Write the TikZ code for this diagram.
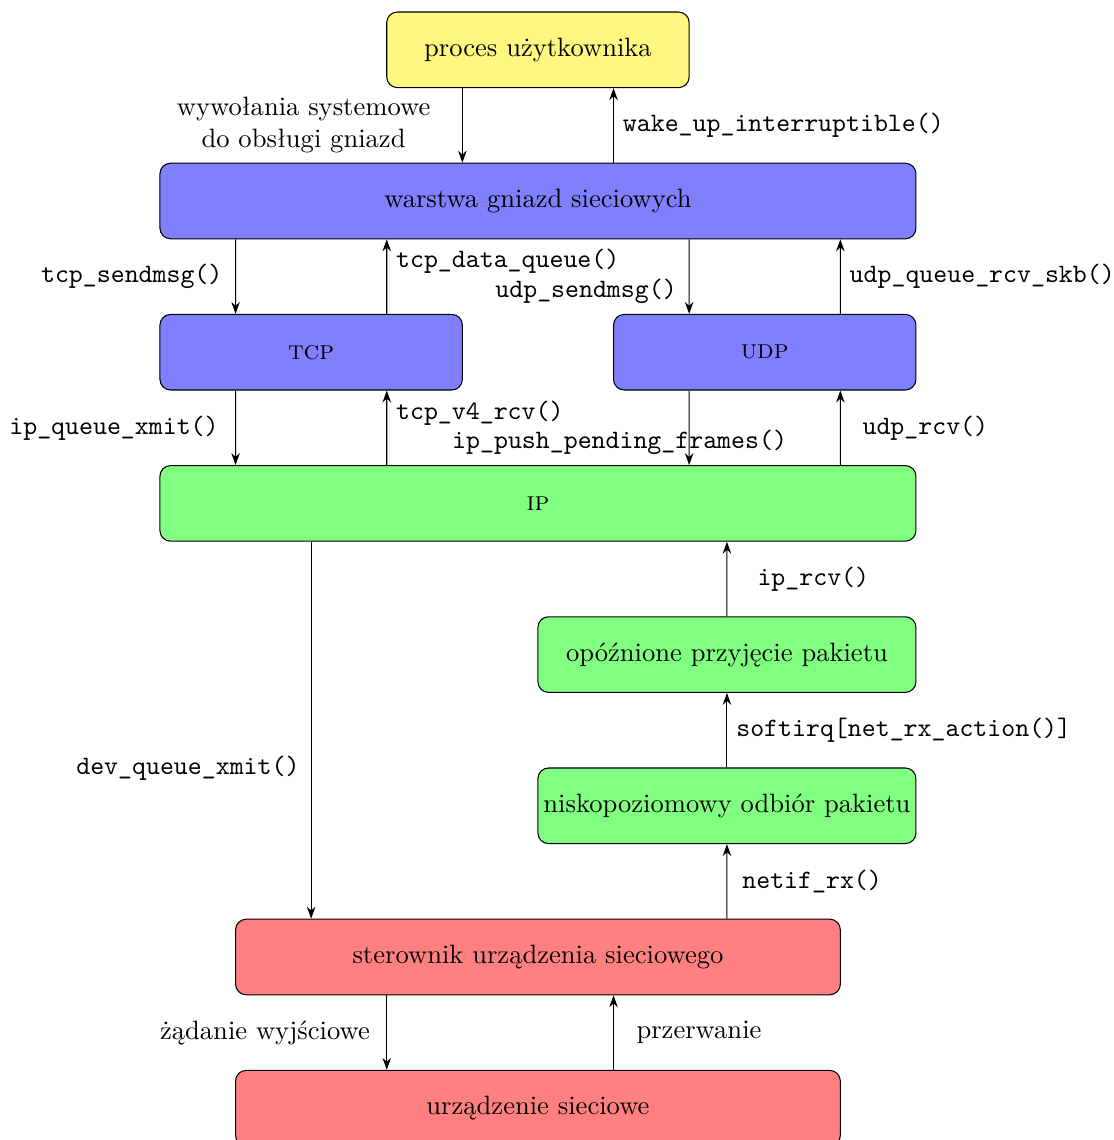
\documentclass[tikz,border=0pt]{standalone}
\usetikzlibrary{arrows.meta}

\tikzset{
  layer/.style={draw, rounded corners=4pt, minimum height=1cm, inner sep=0pt, align=center},
  arr/.style={-{Stealth[length=4.5pt,width=3.2pt]}},
  fn/.style={font=\ttfamily},
}

\begin{document}
\begin{tikzpicture}
  \useasboundingbox (-2.116,0.159) rectangle (12.619,-14.921);

  % layers of the network stack
  \node[layer, fill=yellow!50, minimum width=4cm]  (proc) at (5,-0.5)   {proces użytkownika};
  \node[layer, fill=blue!50,   minimum width=10cm] (sock) at (5,-2.5)   {warstwa gniazd sieciowych};
  \node[layer, fill=blue!50,   minimum width=4cm]  (tcp)  at (2,-4.5)   {\textsc{tcp}};
  \node[layer, fill=blue!50,   minimum width=4cm]  (udp)  at (8,-4.5)   {\textsc{udp}};
  \node[layer, fill=green!50,  minimum width=10cm] (ip)   at (5,-6.5)   {\textsc{ip}};
  \node[layer, fill=green!50,  minimum width=5cm]  (defr) at (7.5,-8.5) {opóźnione przyjęcie pakietu};
  \node[layer, fill=green!50,  minimum width=5cm]  (lowr) at (7.5,-10.5){niskopoziomowy odbiór pakietu};
  \node[layer, fill=red!50,    minimum width=8cm]  (drv)  at (5,-12.5)  {sterownik urządzenia sieciowego};
  \node[layer, fill=red!50,    minimum width=8cm]  (dev)  at (5,-14.5)  {urządzenie sieciowe};

  % user process <-> socket layer
  \draw[arr] ([xshift=-1cm]proc.south) -- node[midway, left, align=center, xshift=-0.3cm]
    {wywołania systemowe\\do obsługi gniazd} ([xshift=-1cm]sock.north);
  \draw[arr] ([xshift=1cm]sock.north) -- node[midway, right, fn] {wake\_up\_interruptible()} ([xshift=1cm]proc.south);

  % socket layer <-> TCP / UDP
  \draw[arr] ([xshift=-4cm]sock.south) -- node[midway, left, xshift=-0.05cm, fn] {tcp\_sendmsg()} ([xshift=-1cm]tcp.north);
  \draw[arr] ([xshift=1cm]tcp.north) -- node[pos=0.7, right, fn] {tcp\_data\_queue()} ([xshift=-2cm]sock.south);
  \draw[arr] ([xshift=2cm]sock.south) -- node[pos=0.7, left, xshift=-0.04cm, fn] {udp\_sendmsg()} ([xshift=-1cm]udp.north);
  \draw[arr] ([xshift=1cm]udp.north) -- node[midway, right, fn] {udp\_queue\_rcv\_skb()} ([xshift=4cm]sock.south);

  % TCP / UDP <-> IP
  \draw[arr] ([xshift=-1cm]tcp.south) -- node[midway, left, xshift=-0.1cm, fn] {ip\_queue\_xmit()} ([xshift=-4cm]ip.north);
  \draw[arr] ([xshift=-2cm]ip.north) -- node[pos=0.7, right, fn] {tcp\_v4\_rcv()} ([xshift=1cm]tcp.south);
  \draw[arr] ([xshift=-1cm]udp.south) -- node[pos=0.7, xshift=-0.92cm, fn] {ip\_push\_pending\_frames()} ([xshift=2cm]ip.north);
  \draw[arr] ([xshift=4cm]ip.north) -- node[midway, right, xshift=0.17cm, fn] {udp\_rcv()} ([xshift=1cm]udp.south);

  % IP <-> device driver
  \draw[arr] ([xshift=-3cm]ip.south) -- node[pos=0.6, left, xshift=-0.03cm, fn] {dev\_queue\_xmit()} ([xshift=-3cm]drv.north);
  \draw[arr] (defr.north) -- node[midway, right, xshift=0.28cm, fn] {ip\_rcv()} ([xshift=2.5cm]ip.south);
  \draw[arr] (lowr.north) -- node[midway, right, fn] {softirq[net\_rx\_action()]} (defr.south);
  \draw[arr] ([xshift=2.5cm]drv.north) -- node[midway, right, xshift=0.08cm, fn] {netif\_rx()} (lowr.south);

  % device driver <-> device
  \draw[arr] ([xshift=-2cm]drv.south) -- node[midway, left, xshift=-0.1cm] {żądanie wyjściowe} ([xshift=-2cm]dev.north);
  \draw[arr] ([xshift=1cm]dev.north) -- node[midway, right, xshift=0.18cm] {przerwanie} ([xshift=1cm]drv.south);
\end{tikzpicture}
\end{document}
